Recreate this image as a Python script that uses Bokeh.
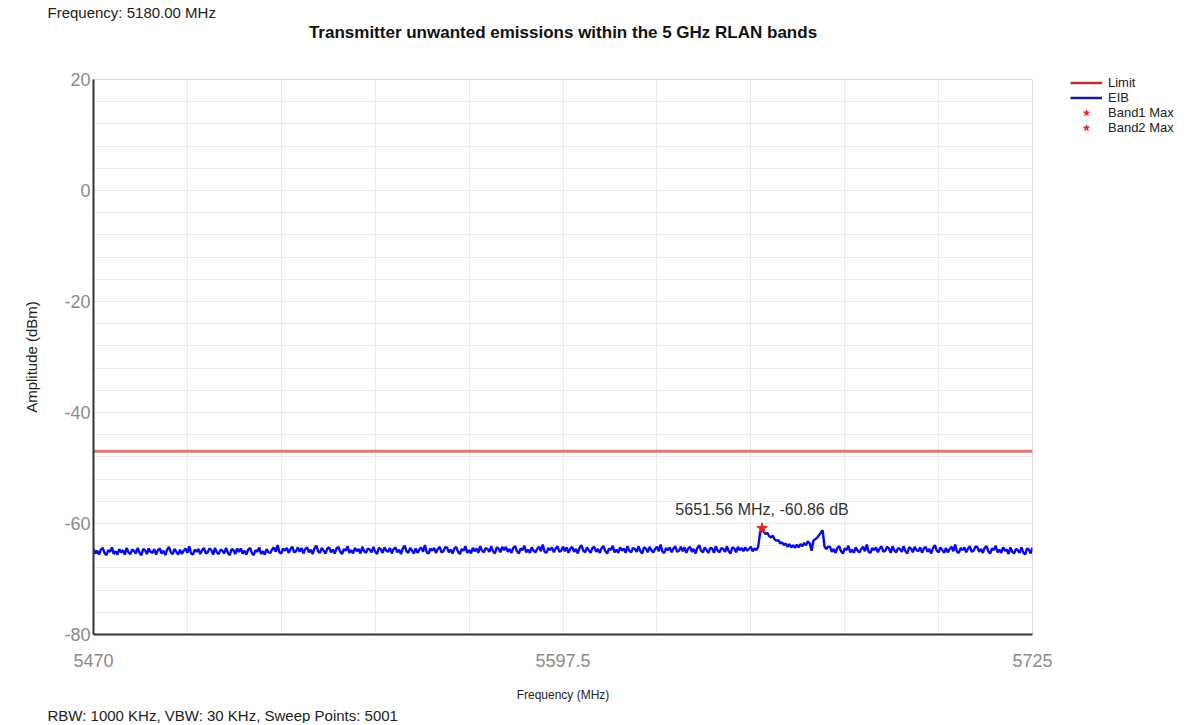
import numpy as np
from bokeh.plotting import figure
from bokeh.models import (Range1d, FixedTicker, Label, Legend, LegendItem,
                          ColumnDataSource, Title)
from bokeh.embed import file_html
from bokeh.resources import INLINE

# ---------------- data ----------------
f_start, f_stop = 5470.0, 5725.0
# EIB trace amplitude (dBm), one value every 0.5 MHz from 5470 to 5725
eib_amp = [
    -64.5, -65.4, -64.9, -65.6, -64.7, -64.4, -65.3, -65.7, -64.8, -65.1, -64.3, -65.5, -65.0, -65.6, -64.6, -65.2,
    -64.8, -65.6, -64.4, -65.2, -65.5, -64.7, -64.9, -65.4, -64.4, -65.3, -65.7, -64.6, -64.8, -65.5, -64.5, -65.1,
    -65.3, -64.6, -65.6, -64.8, -64.5, -65.4, -64.9, -65.7, -64.7, -64.2, -65.2, -65.5, -64.6, -65.1, -65.6, -64.7,
    -65.5, -64.9, -64.5, -65.3, -64.1, -65.4, -65.6, -64.7, -65.1, -64.6, -65.5, -64.8, -64.4, -65.4, -65.2, -64.5,
    -64.8, -65.6, -64.4, -65.2, -65.5, -64.7, -64.9, -65.4, -64.4, -65.3, -65.7, -64.6, -64.8, -65.5, -64.5, -65.1,
    -64.5, -65.4, -64.9, -65.6, -64.7, -64.4, -65.3, -65.7, -64.8, -65.1, -64.3, -65.5, -65.0, -65.6, -64.6, -65.2,
    -65.3, -64.7, -64.3, -65.1, -63.9, -65.2, -65.4, -64.5, -64.9, -64.4, -65.3, -64.6, -64.2, -65.2, -65.0, -64.3,
    -65.1, -64.4, -65.4, -64.6, -64.3, -65.2, -64.7, -65.5, -64.5, -64.0, -65.0, -65.3, -64.4, -64.9, -65.4, -64.5,
    -64.3, -65.2, -64.7, -65.4, -64.5, -64.2, -65.1, -65.5, -64.6, -64.9, -64.1, -65.3, -64.8, -65.4, -64.4, -65.0,
    -64.6, -65.4, -64.2, -65.0, -65.3, -64.5, -64.7, -65.2, -64.2, -65.1, -65.5, -64.4, -64.6, -65.3, -64.3, -64.9,
    -65.1, -64.4, -65.4, -64.6, -64.3, -65.2, -64.7, -65.5, -64.5, -64.0, -65.0, -65.3, -64.4, -64.9, -65.4, -64.5,
    -65.3, -64.7, -64.3, -65.1, -63.9, -65.2, -65.4, -64.5, -64.9, -64.4, -65.3, -64.6, -64.2, -65.2, -65.0, -64.3,
    -64.3, -65.2, -64.7, -65.4, -64.5, -64.2, -65.1, -65.5, -64.6, -64.9, -64.1, -65.3, -64.8, -65.4, -64.4, -65.0,
    -64.5, -65.3, -64.1, -64.9, -65.2, -64.4, -64.6, -65.1, -64.1, -65.0, -65.4, -64.3, -64.5, -65.2, -64.2, -64.8,
    -64.2, -65.1, -64.6, -65.3, -64.4, -64.1, -65.0, -65.4, -64.5, -64.8, -64.0, -65.2, -64.7, -65.3, -64.3, -64.9,
    -65.2, -64.6, -64.2, -65.0, -63.8, -65.1, -65.3, -64.4, -64.8, -64.3, -65.2, -64.5, -64.1, -65.1, -64.9, -64.2,
    -65.0, -64.3, -65.3, -64.5, -64.2, -65.1, -64.6, -65.4, -64.4, -63.9, -64.9, -65.2, -64.3, -64.8, -65.3, -64.4,
    -64.2, -65.1, -64.6, -65.3, -64.4, -64.1, -65.0, -65.4, -64.5, -64.8, -64.0, -65.2, -64.7, -65.3, -64.3, -64.9,
    -64.5, -65.3, -64.1, -64.9, -65.2, -64.4, -64.6, -65.1, -64.1, -65.0, -65.4, -64.3, -64.5, -65.2, -64.2, -64.8,
    -65.2, -64.6, -64.2, -65.0, -63.8, -65.1, -65.3, -64.4, -64.8, -64.3, -65.2, -64.5, -64.1, -65.1, -64.9, -64.2,
    -65.0, -64.3, -65.3, -64.5, -64.2, -65.1, -64.6, -65.4, -64.4, -63.9, -64.9, -65.2, -64.3, -64.8, -65.3, -64.4,
    -64.5, -65.3, -64.1, -64.9, -65.2, -64.4, -64.6, -65.1, -64.1, -65.0, -65.4, -64.3, -64.5, -65.2, -64.2, -64.8,
    -64.4, -65.0, -64.3, -64.9, -64.6, -64.2, -65.0, -64.5, -64.8, -64.2, -61.8, -60.9, -61.5, -61.9, -61.7, -62.3,
    -62.5, -62.2, -62.9, -63.1, -63.0, -63.6, -63.4, -63.9, -63.6, -64.2, -63.7, -64.3, -63.9, -64.4, -63.8, -64.3,
    -63.7, -64.1, -63.5, -63.9, -63.2, -63.6, -64.9, -63.1, -62.8, -62.6, -62.1, -61.7, -61.2, -64.1, -64.6, -64.2,
    -64.2, -65.1, -64.6, -65.3, -64.4, -64.1, -65.0, -65.4, -64.5, -64.8, -64.0, -65.2, -64.7, -65.3, -64.3, -64.9,
    -65.2, -64.6, -64.2, -65.0, -63.8, -65.1, -65.3, -64.4, -64.8, -64.3, -65.2, -64.5, -64.1, -65.1, -64.9, -64.2,
    -64.5, -65.3, -64.1, -64.9, -65.2, -64.4, -64.6, -65.1, -64.1, -65.0, -65.4, -64.3, -64.5, -65.2, -64.2, -64.8,
    -65.0, -64.3, -65.3, -64.5, -64.2, -65.1, -64.6, -65.4, -64.4, -63.9, -64.9, -65.2, -64.3, -64.8, -65.3, -64.4,
    -65.2, -64.6, -64.2, -65.0, -63.8, -65.1, -65.3, -64.4, -64.8, -64.3, -65.2, -64.5, -64.1, -65.1, -64.9, -64.2,
    -64.2, -65.1, -64.6, -65.3, -64.4, -64.1, -65.0, -65.4, -64.5, -64.8, -64.0, -65.2, -64.7, -65.3, -64.3, -64.9,
    -64.7, -65.5, -64.3, -65.1, -65.4, -64.6, -64.8, -65.3, -64.3, -65.2, -65.6, -64.5, -64.7, -65.4, -64.4,
]
eib_freq = np.linspace(f_start, f_stop, len(eib_amp))

limit_freq = [5470.0, 5725.0]
limit_amp = [-47.0, -47.0]

band1_max_freq = [5651.56]
band1_max_amp = [-60.86]

x_tick_labels = [5470, 5597.5, 5725]
y_tick_labels = [-80, -60, -40, -20, 0, 20]

# ---------------- figure ----------------
FONT = "Liberation Sans"
p = figure(frame_width=939, frame_height=555, output_backend="svg",
           toolbar_location=None,
           x_range=Range1d(f_start, f_stop), y_range=Range1d(-80, 20),
           min_border_left=93, min_border_right=152, min_border_top=79,
           min_border_bottom=80)
p.outline_line_color = "#dddddd"
p.outline_line_width = 1
p.background_fill_color = "white"
p.border_fill_color = "white"

# grids
p.xgrid.ticker = FixedTicker(ticks=list(np.linspace(f_start, f_stop, 11)))
p.ygrid.ticker = FixedTicker(ticks=list(np.arange(-80, 21, 4)))
p.xgrid.grid_line_color = "#ebebeb"
p.ygrid.grid_line_color = "#ebebeb"

# axes
for ax in (p.xaxis[0], p.yaxis[0]):
    ax.axis_line_color = "#333333"
    ax.axis_line_width = 2
    ax.major_tick_line_color = None
    ax.minor_tick_line_color = None
    ax.major_tick_in = 0
    ax.major_tick_out = 0
    ax.major_label_text_font = FONT
    ax.major_label_text_font_size = "18px"
    ax.major_label_text_color = "#8a8a8a"
    ax.axis_label_text_font = FONT
    ax.axis_label_text_font_style = "normal"
    ax.axis_label_text_color = "#222222"

p.xaxis.ticker = FixedTicker(ticks=x_tick_labels)
p.yaxis.ticker = FixedTicker(ticks=y_tick_labels)
p.yaxis.major_label_overrides = {v: str(v) for v in y_tick_labels}
p.xaxis.major_label_standoff = 19
p.yaxis.major_label_standoff = 3
p.xaxis.axis_label = "Frequency (MHz)"
p.yaxis.axis_label = "Amplitude (dBm)"
p.xaxis.axis_label_text_font_size = "12px"
p.yaxis.axis_label_text_font_size = "15px"
p.xaxis.axis_label_standoff = 18
p.yaxis.axis_label_standoff = 21

# data renderers
p.line(limit_freq, limit_amp, line_color="#e07a74", line_width=3)
p.line(eib_freq, eib_amp, line_color="#0a0ae6", line_width=2.4)
p.scatter(band1_max_freq, band1_max_amp, marker="star", size=11,
          fill_color="#e8231f", line_color="#e8231f")

# peak annotation
p.add_layout(Label(x=band1_max_freq[0], y=band1_max_amp[0],
                   text=f"{band1_max_freq[0]:.2f} MHz, {band1_max_amp[0]:.2f} dB",
                   text_font=FONT, text_font_size="16px", text_color="#333333",
                   text_align="center", text_baseline="bottom", y_offset=10))

# legend (off-screen proxy renderers carry the legend styling)
proxy = ColumnDataSource(data=dict(x=[np.nan], y=[np.nan]))
r_lim = p.line("x", "y", source=proxy, line_color="#b8322c", line_width=2.5)
r_eib = p.line("x", "y", source=proxy, line_color="#1a1a8c", line_width=2.5)
r_b1 = p.scatter("x", "y", source=proxy, marker="star", size=10,
                 fill_color="#e8231f", line_color="#e8231f")
r_b2 = p.scatter("x", "y", source=proxy, marker="star", size=10,
                 fill_color="#e8231f", line_color="#e8231f")
legend = Legend(items=[LegendItem(label="Limit", renderers=[r_lim]),
                       LegendItem(label="EIB", renderers=[r_eib]),
                       LegendItem(label="Band1 Max", renderers=[r_b1]),
                       LegendItem(label="Band2 Max", renderers=[r_b2])],
                location=(38, 499), orientation="vertical",
                glyph_width=32, glyph_height=15, label_height=15,
                spacing=0, padding=0, margin=0, label_standoff=6,
                label_text_font=FONT, label_text_font_size="13px",
                label_text_color="#222222",
                border_line_color=None, background_fill_alpha=0)
p.add_layout(legend, "right")

# above panels (inner first): spacer, main title; p.title (outermost) = note
p.add_layout(Title(text=" ", text_font_size="1px", standoff=35), "above")
p.add_layout(Title(text="Transmitter unwanted emissions within the 5 GHz RLAN bands",
                   align="center", standoff=0, text_font=FONT,
                   text_font_size="17px", text_font_style="bold",
                   text_color="#111111"), "above")
p.title.text = "Frequency: 5180.00 MHz"
p.title.align = "left"
p.title.offset = -46
p.title.standoff = 0
p.title.text_font = FONT
p.title.text_font_size = "15px"
p.title.text_font_style = "normal"
p.title.text_color = "#222222"

p.add_layout(Title(text="RBW: 1000 KHz,  VBW: 30 KHz,  Sweep Points: 5001",
                   align="left", offset=-46, standoff=0, text_font=FONT,
                   text_font_size="15px", text_font_style="normal",
                   text_color="#222222"), "below")

open("out.html", "w").write(file_html(p, INLINE))
